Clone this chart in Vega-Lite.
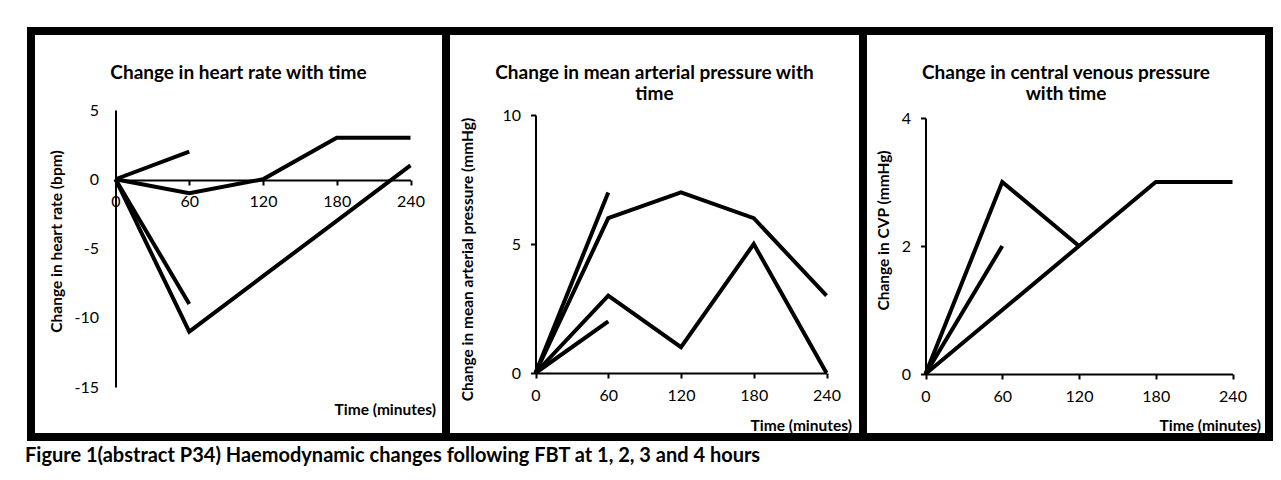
{
  "$schema": "https://vega.github.io/schema/vega-lite/v6.json",
  "padding": {"left": 25, "top": 27, "right": 4, "bottom": 4},
  "background": "white",
  "config": {
    "font": "Lato",
    "view": {"stroke": "black", "strokeWidth": 8},
    "axis": {
      "domainColor": "black", "domainWidth": 2,
      "tickColor": "black", "tickWidth": 2, "tickSize": 5,
      "labelColor": "black", "labelFont": "Lato", "labelFontSize": 16,
      "labelExpr": "datum.value",
      "titleColor": "black", "titleFont": "Lato", "titleFontSize": 15.5, "titleFontWeight": "bold",
      "grid": false, "labelFlush": false, "labelOverlap": false
    },
    "title": {"font": "Lato", "fontWeight": "bold", "color": "black", "fontSize": 19, "lineHeight": 21}
  },
  "title": {
    "text": "Figure 1(abstract P34) Haemodynamic changes following FBT at 1, 2, 3 and 4 hours",
    "orient": "bottom", "anchor": "start", "frame": "bounds",
    "fontSize": 20, "offset": 5, "dx": -2
  },
  "data": {
    "values": [
      {"panel": "hr", "series": "a", "time": 0, "value": 0},
      {"panel": "hr", "series": "a", "time": 60, "value": 2},
      {"panel": "hr", "series": "b", "time": 0, "value": 0},
      {"panel": "hr", "series": "b", "time": 60, "value": -1},
      {"panel": "hr", "series": "b", "time": 120, "value": 0},
      {"panel": "hr", "series": "b", "time": 180, "value": 3},
      {"panel": "hr", "series": "b", "time": 240, "value": 3},
      {"panel": "hr", "series": "c", "time": 0, "value": 0},
      {"panel": "hr", "series": "c", "time": 60, "value": -9},
      {"panel": "hr", "series": "d", "time": 0, "value": 0},
      {"panel": "hr", "series": "d", "time": 60, "value": -11},
      {"panel": "hr", "series": "d", "time": 120, "value": -7},
      {"panel": "hr", "series": "d", "time": 180, "value": -3},
      {"panel": "hr", "series": "d", "time": 240, "value": 1},
      {"panel": "map", "series": "a", "time": 0, "value": 0},
      {"panel": "map", "series": "a", "time": 60, "value": 7},
      {"panel": "map", "series": "b", "time": 0, "value": 0},
      {"panel": "map", "series": "b", "time": 60, "value": 6},
      {"panel": "map", "series": "b", "time": 120, "value": 7},
      {"panel": "map", "series": "b", "time": 180, "value": 6},
      {"panel": "map", "series": "b", "time": 240, "value": 3},
      {"panel": "map", "series": "c", "time": 0, "value": 0},
      {"panel": "map", "series": "c", "time": 60, "value": 3},
      {"panel": "map", "series": "c", "time": 120, "value": 1},
      {"panel": "map", "series": "c", "time": 180, "value": 5},
      {"panel": "map", "series": "c", "time": 240, "value": 0},
      {"panel": "map", "series": "d", "time": 0, "value": 0},
      {"panel": "map", "series": "d", "time": 60, "value": 2},
      {"panel": "cvp", "series": "a", "time": 0, "value": 0},
      {"panel": "cvp", "series": "a", "time": 60, "value": 3},
      {"panel": "cvp", "series": "a", "time": 120, "value": 2},
      {"panel": "cvp", "series": "b", "time": 0, "value": 0},
      {"panel": "cvp", "series": "b", "time": 60, "value": 2},
      {"panel": "cvp", "series": "c", "time": 0, "value": 0},
      {"panel": "cvp", "series": "c", "time": 60, "value": 1},
      {"panel": "cvp", "series": "c", "time": 120, "value": 2},
      {"panel": "cvp", "series": "c", "time": 180, "value": 3},
      {"panel": "cvp", "series": "c", "time": 240, "value": 3}
    ]
  },
  "bounds": "flush",
  "spacing": 0,
  "hconcat": [
    {
      "width": 415, "height": 406,
      "title": {"text": "Change in heart rate with time", "offset": -51.5},
      "transform": [{"filter": "datum.panel == 'hr'"}],
      "mark": {"type": "line", "color": "black", "strokeWidth": 4},
      "encoding": {
        "x": {"field": "time", "type": "quantitative",
          "scale": {"domain": [0, 240], "range": [84.5, 379.5]},
          "axis": {"values": [0, 60, 120, 180, 240], "offset": -257, "labelPadding": 8,
            "title": "Time (minutes)", "titleX": 404.5, "titleY": 229, "titleAlign": "right", "titleBaseline": "middle"}},
        "y": {"field": "value", "type": "quantitative",
          "scale": {"domain": [-15, 5], "range": [356, 79]},
          "axis": {"values": [-15, -10, -5, 0, 5], "offset": -84.5, "ticks": false, "labelPadding": 17,
            "title": "Change in heart rate  (bpm)", "titleX": -59, "titleY": 210, "titleBaseline": "middle"}},
        "detail": {"field": "series"},
        "order": {"field": "time"}
      }
    },
    {
      "width": 417, "height": 406,
      "title": {"text": ["Change in mean arterial pressure with", "time"], "offset": -72.5},
      "transform": [{"filter": "datum.panel == 'map'"}],
      "mark": {"type": "line", "color": "black", "strokeWidth": 4},
      "encoding": {
        "x": {"field": "time", "type": "quantitative",
          "scale": {"domain": [0, 240], "range": [89.5, 380.5]},
          "axis": {"values": [0, 60, 120, 180, 240], "offset": -64, "labelPadding": 9,
            "title": "Time (minutes)", "titleX": 405.5, "titleY": 52, "titleAlign": "right", "titleBaseline": "middle"}},
        "y": {"field": "value", "type": "quantitative",
          "scale": {"domain": [0, 10], "range": [342, 84]},
          "axis": {"values": [0, 5, 10], "offset": -89.5, "labelPadding": 10,
            "title": "Change in mean arterial pressure (mmHg)", "titleX": -68, "titleY": 228, "titleBaseline": "middle"}},
        "detail": {"field": "series"},
        "order": {"field": "time"}
      }
    },
    {
      "width": 406, "height": 406,
      "title": {"text": ["Change in central venous pressure", "with time"], "offset": -72.5},
      "transform": [{"filter": "datum.panel == 'cvp'"}],
      "mark": {"type": "line", "color": "black", "strokeWidth": 4},
      "encoding": {
        "x": {"field": "time", "type": "quantitative",
          "scale": {"domain": [0, 240], "range": [62.5, 369.5]},
          "axis": {"values": [0, 60, 120, 180, 240], "offset": -63, "labelPadding": 9,
            "title": "Time (minutes)", "titleX": 397.5, "titleY": 51, "titleAlign": "right", "titleBaseline": "middle"}},
        "y": {"field": "value", "type": "quantitative",
          "scale": {"domain": [0, 4], "range": [343, 87]},
          "axis": {"values": [0, 2, 4], "offset": -62.5, "labelPadding": 10,
            "title": "Change in CVP (mmHg)", "titleX": -42, "titleY": 199, "titleBaseline": "middle"}},
        "detail": {"field": "series"},
        "order": {"field": "time"}
      }
    }
  ]
}
